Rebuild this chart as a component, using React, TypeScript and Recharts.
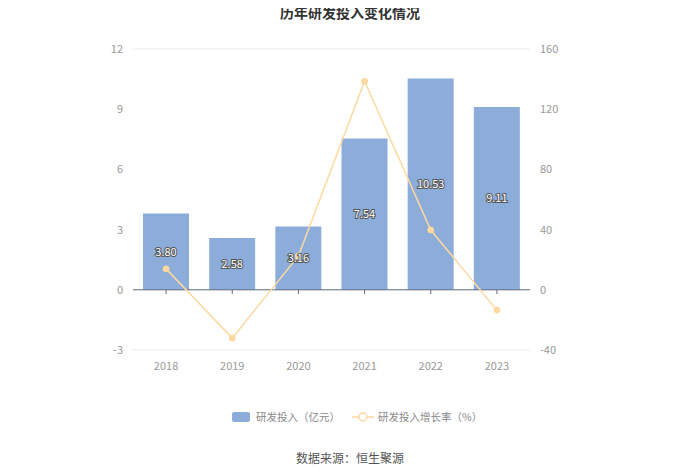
import {
  ComposedChart,
  Bar,
  Line,
  XAxis,
  YAxis,
  CartesianGrid,
  ReferenceLine,
  LabelList,
} from "recharts";

const years = ["2018", "2019", "2020", "2021", "2022", "2023"];
const rdSpend = [3.8, 2.58, 3.16, 7.54, 10.53, 9.11];
const rdGrowth = [13.9, -32.1, 22.5, 138.6, 39.7, -13.5];
const leftTicks = [-3, 0, 3, 6, 9, 12];
const rightTicks = [-40, 0, 40, 80, 120, 160];

const BAR_COLOR = "#8cadda";
const LINE_COLOR = "#fdd9a0";
const FONT = "'Noto Sans CJK SC', 'Noto Sans', sans-serif";

const data = years.map((y, i) => ({
  year: y,
  spend: rdSpend[i],
  growth: rdGrowth[i],
}));

// plot area: top 49, bottom 350 -> zero line at 290
const ZERO_Y = 290;

function YearTick({ x, y, payload }: any) {
  return (
    <g>
      <line x1={x} x2={x} y1={ZERO_Y} y2={ZERO_Y + 4} stroke="#5b6a7d" />
      <text
        x={x}
        y={y + 12}
        textAnchor="middle"
        fontSize={11}
        fill="#999"
        fontFamily={FONT}
      >
        {payload.value}
      </text>
    </g>
  );
}

function LegendBox() {
  return (
    <div
      style={{
        position: "absolute",
        top: 409,
        left: 232,
        display: "flex",
        alignItems: "center",
        fontSize: 10.5,
        color: "#888",
        fontFamily: FONT,
      }}
    >
      <span
        style={{
          display: "inline-block",
          width: 18,
          height: 10,
          background: BAR_COLOR,
          borderRadius: 2,
          marginRight: 6,
        }}
      />
      <span style={{ marginRight: 12 }}>研发投入（亿元）</span>
      <svg width={22} height={10} style={{ marginRight: 4 }}>
        <line x1={0} x2={22} y1={5} y2={5} stroke={LINE_COLOR} strokeWidth={1.5} />
        <circle cx={11} cy={5} r={4} fill="#fff" stroke={LINE_COLOR} strokeWidth={1.5} />
      </svg>
      <span>研发投入增长率（%）</span>
    </div>
  );
}

export default function App() {
  return (
    <div
      style={{
        position: "relative",
        width: 700,
        height: 474,
        margin: -8,
        background: "#fff",
        fontFamily: FONT,
      }}
    >
      <div
        style={{
          position: "absolute",
          top: 2,
          width: 700,
          textAlign: "center",
          fontSize: 14,
          fontWeight: "bold",
          color: "#333",
        }}
      >
        历年研发投入变化情况
      </div>
      <ComposedChart
        width={700}
        height={474}
        data={data}
        margin={{ top: 49, right: 130, left: 0, bottom: 94 }}
      >
        <CartesianGrid vertical={false} stroke="#e9ecf1" />
        <XAxis
          dataKey="year"
          axisLine={false}
          tickLine={false}
          height={30}
          tick={<YearTick />}
          interval={0}
        />
        <YAxis
          yAxisId="left"
          domain={[-3, 12]}
          ticks={leftTicks}
          width={133}
          axisLine={false}
          tickLine={false}
          tickSize={0}
          tickMargin={10}
          tick={{ fontSize: 11, fill: "#999", fontFamily: FONT }}
        />
        <YAxis
          yAxisId="right"
          orientation="right"
          domain={[-40, 160]}
          ticks={rightTicks}
          width={40}
          axisLine={false}
          tickLine={false}
          tickSize={0}
          tickMargin={10}
          tick={{ fontSize: 11, fill: "#999", fontFamily: FONT }}
        />
        <ReferenceLine yAxisId="left" y={0} stroke="#5b6a7d" />
        <Bar
          yAxisId="left"
          dataKey="spend"
          fill={BAR_COLOR}
          barSize={46}
          isAnimationActive={false}
        >
          <LabelList
            dataKey="spend"
            position="center"
            formatter={(v: number) => v.toFixed(2)}
            style={{
              fontSize: 11,
              fill: "#fff",
              stroke: "#555",
              strokeWidth: 2,
              paintOrder: "stroke",
              fontFamily: FONT,
            }}
          />
        </Bar>
        <Line
          yAxisId="right"
          dataKey="growth"
          stroke={LINE_COLOR}
          strokeWidth={1.5}
          dot={{ r: 3, fill: LINE_COLOR, stroke: LINE_COLOR, strokeWidth: 1 }}
          isAnimationActive={false}
        />
      </ComposedChart>
      <LegendBox />
      <div
        style={{
          position: "absolute",
          top: 449,
          width: 700,
          textAlign: "center",
          fontSize: 12,
          color: "#555",
        }}
      >
        数据来源：恒生聚源
      </div>
    </div>
  );
}
